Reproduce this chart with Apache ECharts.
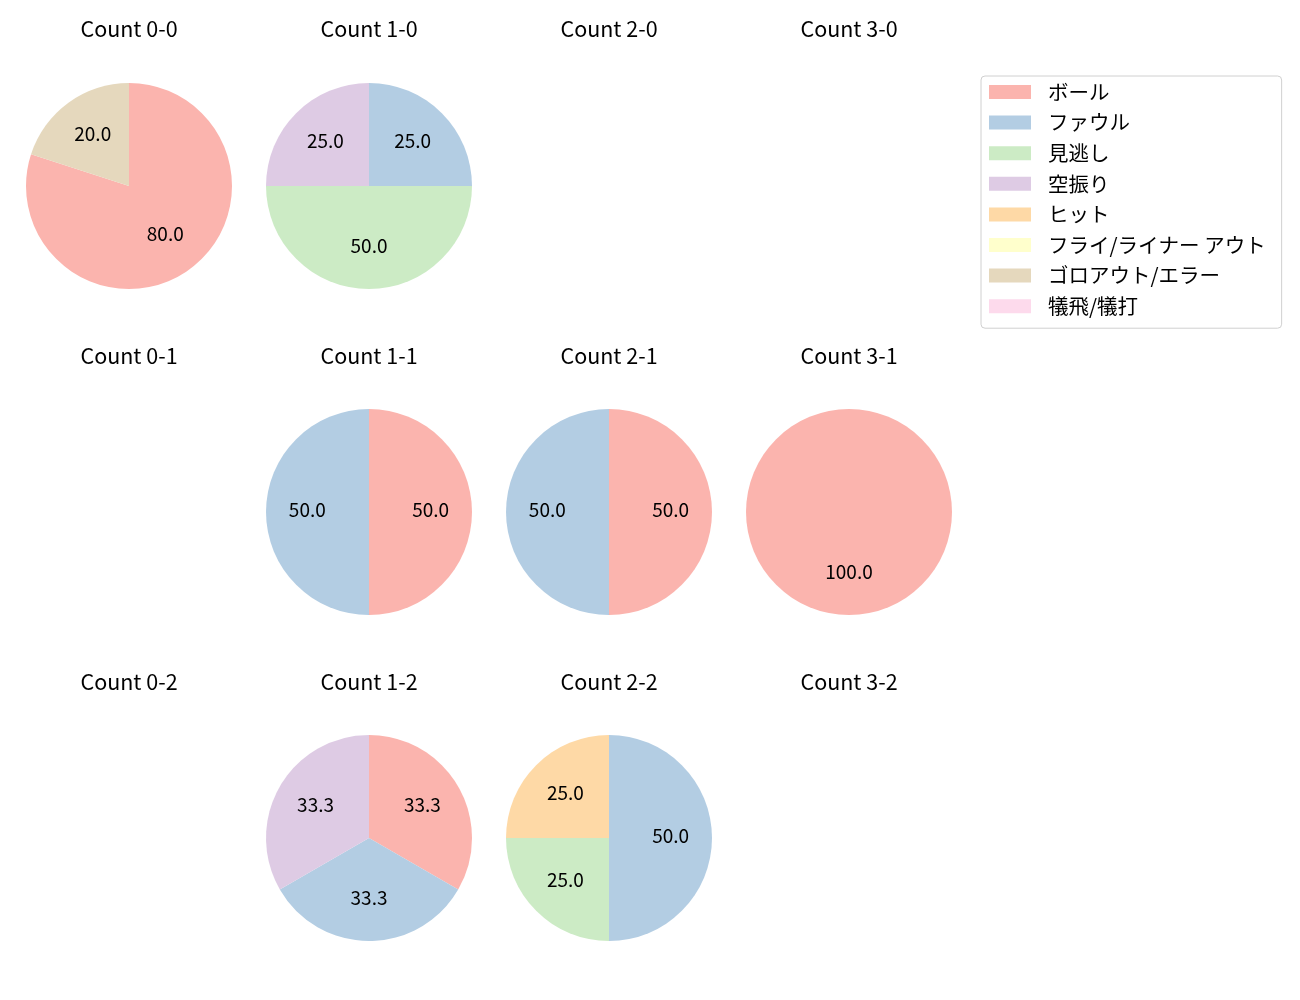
<!DOCTYPE html>
<html>
<head>
<meta charset="utf-8">
<script src="https://cdn.jsdelivr.net/npm/echarts@6/dist/echarts.min.js"></script>
<style>
html,body{margin:0;padding:0;background:#fff;}
#main{width:1300px;height:1000px;}
</style>
</head>
<body>
<div id="main"></div>
<script>
const categories = ['ボール','ファウル','見逃し','空振り','ヒット','フライ/ライナー アウト','ゴロアウト/エラー','犠飛/犠打'];
const colors = ['#fbb4ae','#b3cde3','#ccebc5','#decbe4','#fed9a6','#ffffcc','#e5d8bd','#fddaec'];

const panelTitles = [
  ['Count 0-0','Count 1-0','Count 2-0','Count 3-0'],
  ['Count 0-1','Count 1-1','Count 2-1','Count 3-1'],
  ['Count 0-2','Count 1-2','Count 2-2','Count 3-2']
];
// percentage values per category (order of categories), per panel
const count00 = [80, 0, 0, 0, 0, 0, 20, 0];
const count10 = [0, 25, 50, 25, 0, 0, 0, 0];
const count20 = [];
const count30 = [];
const count01 = [];
const count11 = [50, 50, 0, 0, 0, 0, 0, 0];
const count21 = [50, 50, 0, 0, 0, 0, 0, 0];
const count31 = [100, 0, 0, 0, 0, 0, 0, 0];
const count02 = [];
const count12 = [33.3, 33.3, 0, 33.3, 0, 0, 0, 0];
const count22 = [0, 50, 25, 0, 25, 0, 0, 0];
const count32 = [];
const panelData = [
  [count00, count10, count20, count30],
  [count01, count11, count21, count31],
  [count02, count12, count22, count32]
];

const FONT = '"Noto Sans CJK JP", "Noto Sans", sans-serif';
const colX = [129, 369, 609, 849];
const rowY = [186, 512, 838];
const titleY = [29, 356, 682];
const R = 103;

const series = [];
const graphics = [];

// legend provider (holds all categories)
series.push({
  type: 'pie', name: 'legend', center: [-500, -500], radius: [0, 1], silent: true,
  label: {show: false}, labelLine: {show: false},
  data: categories.map((c, i) => ({name: c, value: 1, itemStyle: {color: colors[i]}}))
});

for (let r = 0; r < 3; r++) {
  for (let c = 0; c < 4; c++) {
    graphics.push({
      type: 'text', x: colX[c], y: titleY[r],
      style: {text: panelTitles[r][c], align: 'center', verticalAlign: 'middle',
              font: '21.5px ' + FONT, fill: '#000'}
    });
    const vals = panelData[r][c];
    const items = [];
    vals.forEach((v, i) => { if (v > 0) items.push({name: categories[i], value: v, itemStyle: {color: colors[i]}}); });
    if (!items.length) continue;
    series.push({
      type: 'pie', center: [colX[c], rowY[r]], radius: [0, R], startAngle: 90, clockwise: true,
      silent: true, avoidLabelOverlap: false, emphasis: {disabled: true},
      itemStyle: {borderWidth: 0},
      label: {show: false}, labelLine: {show: false},
      data: items
    });
    // label overlay so labels sit at ~0.6 R
    series.push({
      type: 'pie', center: [colX[c], rowY[r]], radius: [R * 0.14, R], startAngle: 90, clockwise: true,
      silent: true, avoidLabelOverlap: false, emphasis: {disabled: true},
      itemStyle: {color: 'rgba(0,0,0,0)', borderWidth: 0},
      label: {show: true, position: 'inside', color: '#000', fontSize: 19, fontFamily: FONT,
              offset: [0, -2], formatter: p => (p.value).toFixed(1)},
      labelLine: {show: false},
      data: items.map(d => ({name: d.name, value: d.value}))
    });
  }
}

const chart = echarts.init(document.getElementById('main'), null, {renderer: 'canvas'});
chart.setOption({
  animation: false,
  backgroundColor: '#fff',
  legend: {
    orient: 'vertical', left: 981, top: 76,
    data: categories,
    itemWidth: 42, itemHeight: 14, itemGap: 8.6,
    padding: [5, 16, 11, 8],
    borderColor: '#d0d0d0', borderWidth: 1, borderRadius: 4,
    icon: 'rect', selectedMode: false,
    textStyle: {fontSize: 20.5, fontFamily: FONT, color: '#000', lineHeight: 22, padding: [0, 0, 0, 12]}
  },
  series: series,
  graphic: graphics
});
</script>
</body>
</html>
